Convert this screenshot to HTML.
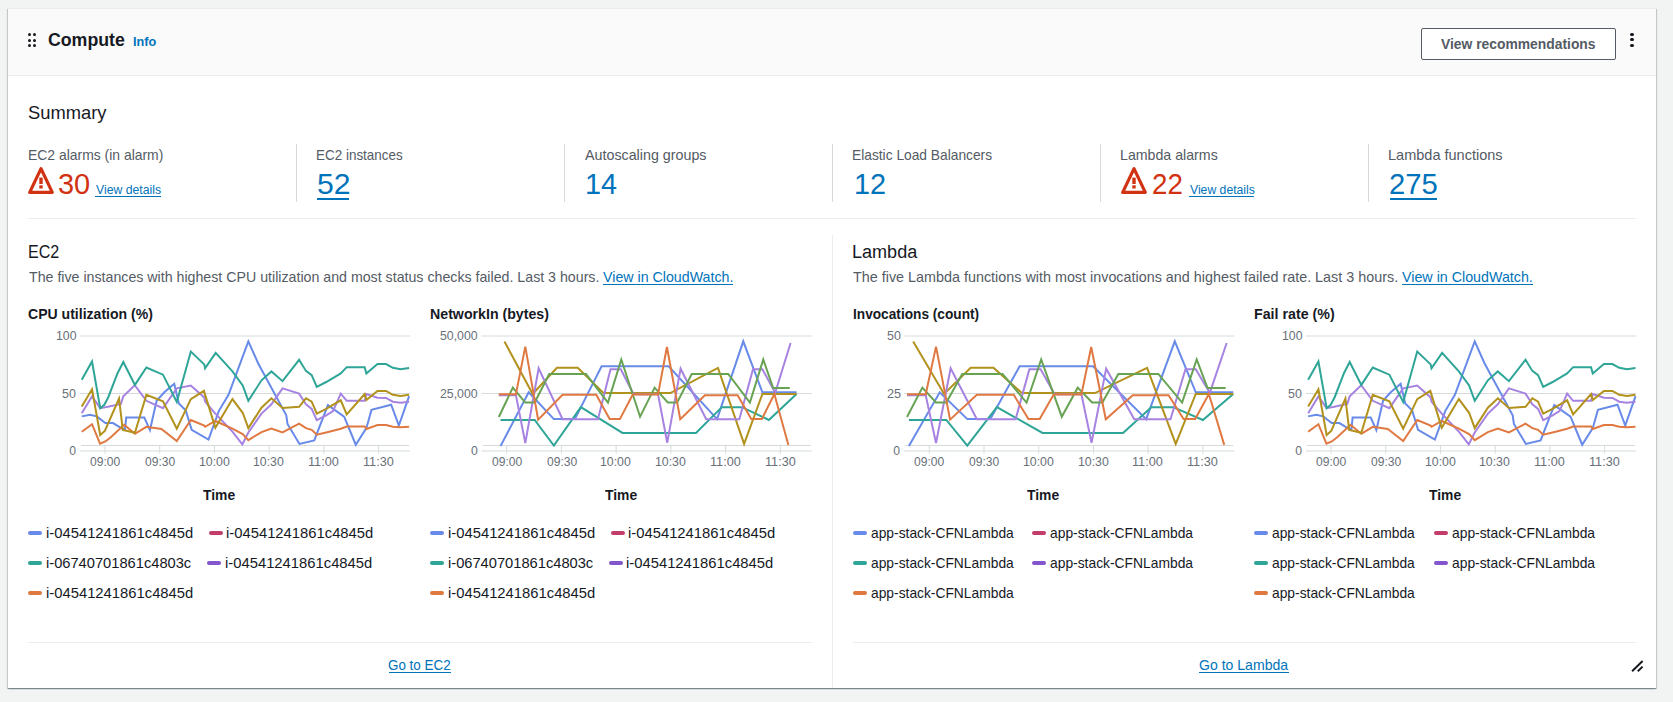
<!DOCTYPE html>
<html lang="en">
<head>
<meta charset="utf-8">
<title>Compute</title>
<style>
html,body{margin:0;padding:0}
body{width:1673px;height:702px;overflow:hidden;background:#f2f3f3;font-family:"Liberation Sans",sans-serif;position:relative;color:#16191f}
.card{position:absolute;left:8px;top:8px;width:1648px;height:680px;background:#fff;border-top:1px solid #eaeded;box-sizing:border-box;box-shadow:0 1px 1px 0 rgba(0,28,36,.3),1px 1px 1px 0 rgba(0,28,36,.15),-1px 1px 1px 0 rgba(0,28,36,.15)}
.hdr{position:absolute;left:0;top:0;width:100%;height:67px;background:#fafafa;border-bottom:1px solid #eaeded;box-sizing:border-box}
.t{position:absolute;transform-origin:0 0;margin:0;padding:0;white-space:nowrap;font-weight:400;text-decoration:none;display:block}
.ul{position:absolute;display:block}
.mk{position:absolute;display:block;width:14px;height:4px;border-radius:2px}
.vr{position:absolute;width:1px;background:#eaeded}
.hr{position:absolute;height:1px;background:#eaeded}
.btn{position:absolute;left:1421px;top:28px;width:195px;height:32px;box-sizing:border-box;border:1px solid #545b64;border-radius:2px;background:#fff}
.dot{position:absolute;width:3px;height:3px;border-radius:50%;background:#16191f}
.ic{position:absolute}
.charts{position:absolute;left:0;top:0}
#abs{position:absolute;left:0;top:0;width:1673px;height:702px}
</style>
</head>
<body>
<div class="card"><div class="hdr"></div></div>
<div id="abs">
<div class="btn"></div>
<i class="dot" style="left:27.6px;top:33.2px"></i><i class="dot" style="left:27.6px;top:38.6px"></i><i class="dot" style="left:27.6px;top:44px"></i><i class="dot" style="left:33.2px;top:33.2px"></i><i class="dot" style="left:33.2px;top:38.6px"></i><i class="dot" style="left:33.2px;top:44px"></i>
<i class="dot" style="left:1630.4px;top:32.9px;width:3.2px;height:3.2px"></i><i class="dot" style="left:1630.4px;top:38.3px;width:3.2px;height:3.2px"></i><i class="dot" style="left:1630.4px;top:43.8px;width:3.2px;height:3.2px"></i>
<i class="vr" style="left:296px;top:144px;height:58px;background:#d5dbdb"></i><i class="vr" style="left:564px;top:144px;height:58px;background:#d5dbdb"></i><i class="vr" style="left:832px;top:144px;height:58px;background:#d5dbdb"></i><i class="vr" style="left:1100px;top:144px;height:58px;background:#d5dbdb"></i><i class="vr" style="left:1368px;top:144px;height:58px;background:#d5dbdb"></i>
<i class="hr" style="left:28px;top:218px;width:1608px"></i>
<i class="vr" style="left:832px;top:235px;height:453px"></i>
<i class="hr" style="left:28px;top:642px;width:784px"></i>
<i class="hr" style="left:853px;top:642px;width:783px"></i>
<svg class="ic" style="left:26.9px;top:165px" width="28" height="30" viewBox="-1 165 28 30"><path d="M13 168.6 L24.3 192.4 H1.7 Z" fill="none" stroke="#d13212" stroke-width="3.2" stroke-linejoin="round"/><rect x="11.3" y="177.6" width="3.4" height="6.4" fill="#d13212"/><rect x="11.3" y="185.3" width="3.4" height="3.2" fill="#d13212"/></svg>
<svg class="ic" style="left:1120px;top:165px" width="28" height="30" viewBox="-1 165 28 30"><path d="M13 168.6 L24.3 192.4 H1.7 Z" fill="none" stroke="#d13212" stroke-width="3.2" stroke-linejoin="round"/><rect x="11.3" y="177.6" width="3.4" height="6.4" fill="#d13212"/><rect x="11.3" y="185.3" width="3.4" height="3.2" fill="#d13212"/></svg>
<svg class="charts" width="1673" height="702" viewBox="0 0 1673 702">
<g stroke="#d5dbdb" stroke-width="1" fill="none">
<line x1="80" y1="336.0" x2="410" y2="336.0"/>
<line x1="80" y1="393.5" x2="410" y2="393.5"/>
<line x1="80" y1="451.0" x2="410" y2="451.0"/>
<line x1="81" y1="445.5" x2="409" y2="445.5"/>
<line x1="105" y1="445" x2="105" y2="453.6"/>
<line x1="159.72" y1="445" x2="159.72" y2="453.6"/>
<line x1="214.44" y1="445" x2="214.44" y2="453.6"/>
<line x1="269.16" y1="445" x2="269.16" y2="453.6"/>
<line x1="323.88" y1="445" x2="323.88" y2="453.6"/>
<line x1="378.6" y1="445" x2="378.6" y2="453.6"/>
</g>
<g fill="none" stroke-width="2" stroke-linejoin="miter" stroke-linecap="butt">
<polyline points="81.76,416.37 89.97,414.66 96.8,416.37 105.35,423.03 113.04,423.03 122.79,429.02 125.01,429.53 126.21,417.56 144.32,417.56 149.97,430.04 156.63,400.81 164.32,392.26 174.24,383.72 178.85,403.38 185.69,410.21 191.68,429.87 208.51,439.62 218.77,411.07 228.51,394.83 248.34,341.32 258.09,363.21 286.29,415.34 287.49,423.89 299.45,443.89 314.24,440.47 327.91,405.09 344.15,416.71 355.78,444.74 366.38,428.16 371.5,409.87 391.16,404.74 398.85,425.6 409.11,396.2" stroke="#688ae8"/>
<polyline points="81.76,413.29 92.02,396.37 100.22,408.16 107.91,406.79 120.91,403.89 123.3,396.37 134.75,385.26 146.38,400.81 162.96,408.16 176.8,388.33 190.82,385.6 204.24,397.39 205.09,401.67 215.35,413.63 232.44,431.58 242.36,444.4 248.34,432.44 261.5,413.63 271.42,404.23 282.53,388.33 299.11,393.63 305.95,404.23 311.68,408.85 316.8,420.13 326.21,415.34 333.04,411.07 340.74,393.63 346.72,400.81 364.67,400.81 366.38,393.97 377.49,397.74 386.03,397.91 392.87,401.67 400.56,402.86 409.11,401.67" stroke="#a783e1"/>
<polyline points="81.76,431.75 92.02,424.23 100.05,443.72 105.35,441.5 110.82,437.22 124.15,424.74 134.92,433.8 146.38,426.79 161.42,429.02 176.8,440.98 190.82,419.96 204.24,425.6 205.09,426.79 215.35,420.98 232.44,428.68 242.7,434.15 248.34,440.13 261.5,432.09 271.42,428.5 282.53,432.44 299.11,423.55 305.95,428.16 311.68,429.87 316.8,434.66 326.21,432.44 340.74,428.68 346.72,426.45 364.67,426.45 366.38,429.02 377.49,425.09 386.03,425.09 392.87,426.79 400.56,427.31 409.11,426.79" stroke="#e07941"/>
<polyline points="81.76,379.79 92.02,361.5 100.22,408.16 104.32,404.74 108.26,397.22 117.66,372.95 123.3,362.01 134.92,384.91 146.38,367.48 162.96,374.66 176.8,402.01 190.82,351.58 204.24,364.4 205.09,368.33 215.69,352.95 232.44,371.41 242.7,385.43 248.34,400.81 261.5,380.3 271.42,371.41 282.53,381.15 299.11,359.79 305.95,370.9 311.68,375.17 316.8,386.79 326.21,382.01 340.74,373.46 346.72,367.14 364.67,367.14 366.38,373.46 377.49,364.06 386.03,364.06 392.87,367.82 400.56,369.19 409.11,367.99" stroke="#2ea597"/>
<polyline points="81.76,406.45 92.02,389.36 100.22,435 104.84,430.9 119.03,398.59 122.79,429.87 134.92,432.78 146.38,394.83 162.96,401.32 176.8,428.68 190.82,399.1 203.9,390.9 215.35,427.82 232.44,399.1 242.7,412.78 248.34,428.16 261.5,407.65 271.42,398.25 282.53,407.99 299.11,406.79 305.95,398.25 311.68,401.67 316.8,413.63 326.21,408.85 340.74,400.3 346.72,414.49 364.67,393.97 366.38,399.96 377.49,390.9 386.03,390.9 392.87,394.83 400.56,396.03 409.11,394.83" stroke="#b2911c"/>
</g>
<g stroke="#d5dbdb" stroke-width="1" fill="none">
<line x1="481.7" y1="336.0" x2="811.7" y2="336.0"/>
<line x1="481.7" y1="393.5" x2="811.7" y2="393.5"/>
<line x1="481.7" y1="451.0" x2="811.7" y2="451.0"/>
<line x1="482.7" y1="445.5" x2="810.7" y2="445.5"/>
<line x1="506.7" y1="445" x2="506.7" y2="453.6"/>
<line x1="561.42" y1="445" x2="561.42" y2="453.6"/>
<line x1="616.14" y1="445" x2="616.14" y2="453.6"/>
<line x1="670.86" y1="445" x2="670.86" y2="453.6"/>
<line x1="725.58" y1="445" x2="725.58" y2="453.6"/>
<line x1="780.3" y1="445" x2="780.3" y2="453.6"/>
</g>
<g fill="none" stroke-width="2" stroke-linejoin="miter" stroke-linecap="butt">
<polyline points="500.51,446.11 528.72,392.26 553.85,419.1 574.87,419.1 601.62,366.28 668.63,366.28 717.09,419.1 743.25,341.32 762.39,392.26 796.58,392.26" stroke="#688ae8"/>
<polyline points="500.51,419.96 534.7,419.96 553.85,445.6 580.85,407.14 622.48,432.95 695.98,432.95 721.88,407.14 741.88,407.14 768.89,419.96 796.58,393.97" stroke="#2ea597"/>
<polyline points="504.44,341.5 532.65,393.97 556.92,367.82 577.78,367.82 603.68,393.12 670.34,393.12 717.95,367.82 744.1,443.89 762.39,393.97 796.58,393.97" stroke="#b2911c"/>
<polyline points="498.8,395.17 515.9,395.17 525.3,443.03 538.63,368.33 562.56,419.27 597.95,419.27 610.51,369.19 620.77,369.19 633.59,394.32 658.03,394.32 667.26,442.69 680.6,368.68 706.24,419.27 739.32,419.27 752.99,369.19 762.39,369.19 775.21,392.78 790.6,343.03" stroke="#a783e1"/>
<polyline points="498.8,417.05 512.82,387.65 525.3,402.52 534.7,402.52 549.23,373.97 585.98,373.97 607.95,402.52 621.28,359.44 640.09,416.71 654.62,387.65 667.78,402.52 677.18,402.52 691.71,373.97 728.21,373.97 749.91,402.52 763.25,359.44 773.16,387.99 789.74,387.99" stroke="#67a353"/>
<polyline points="498.8,394.32 515.9,394.32 525.3,346.62 538.12,419.62 562.56,394.83 596.24,394.83 609.66,419.1 619.91,419.1 632.74,394.49 658.03,394.49 666.92,346.97 680.26,419.27 704.87,395.17 737.61,395.17 751.28,419.1 761.88,419.1 774.36,393.97 788.38,444.91" stroke="#e07941"/>
</g>
<g stroke="#d5dbdb" stroke-width="1" fill="none">
<line x1="904.3" y1="336.0" x2="1234.3" y2="336.0"/>
<line x1="904.3" y1="393.5" x2="1234.3" y2="393.5"/>
<line x1="904.3" y1="451.0" x2="1234.3" y2="451.0"/>
<line x1="905.3" y1="445.5" x2="1233.3" y2="445.5"/>
<line x1="929.3" y1="445" x2="929.3" y2="453.6"/>
<line x1="984.02" y1="445" x2="984.02" y2="453.6"/>
<line x1="1038.74" y1="445" x2="1038.74" y2="453.6"/>
<line x1="1093.46" y1="445" x2="1093.46" y2="453.6"/>
<line x1="1148.18" y1="445" x2="1148.18" y2="453.6"/>
<line x1="1202.9" y1="445" x2="1202.9" y2="453.6"/>
</g>
<g fill="none" stroke-width="2" stroke-linejoin="miter" stroke-linecap="butt">
<polyline points="908.88,446.11 939.78,392.26 967.3,419.1 990.34,419.1 1019.64,366.28 1093.05,366.28 1146.14,419.1 1174.79,341.32 1195.77,392.26 1233.22,392.26" stroke="#688ae8"/>
<polyline points="908.88,419.96 946.33,419.96 967.3,445.6 996.89,407.14 1042.49,432.95 1123.01,432.95 1151.38,407.14 1173.29,407.14 1202.88,419.96 1233.22,393.97" stroke="#2ea597"/>
<polyline points="913.18,341.5 944.08,393.97 970.67,367.82 993.52,367.82 1021.89,393.12 1094.92,393.12 1147.08,367.82 1175.73,443.89 1195.77,393.97 1233.22,393.97" stroke="#b2911c"/>
<polyline points="907,395.17 925.73,395.17 936.03,443.03 950.64,368.33 976.85,419.27 1015.62,419.27 1029.38,369.19 1040.62,369.19 1054.66,394.32 1081.44,394.32 1091.55,442.69 1106.16,368.68 1134.25,419.27 1170.49,419.27 1185.47,369.19 1195.77,369.19 1209.81,392.78 1226.67,343.03" stroke="#a783e1"/>
<polyline points="907,417.05 922.36,387.65 936.03,402.52 946.33,402.52 962.25,373.97 1002.51,373.97 1026.57,402.52 1041.18,359.44 1061.78,416.71 1077.7,387.65 1092.12,402.52 1102.41,402.52 1118.33,373.97 1158.31,373.97 1182.1,402.52 1196.7,359.44 1207.56,387.99 1225.73,387.99" stroke="#67a353"/>
<polyline points="907,394.32 925.73,394.32 936.03,346.62 950.07,419.62 976.85,394.83 1013.74,394.83 1028.45,419.1 1039.68,419.1 1053.73,394.49 1081.44,394.49 1091.18,346.97 1105.79,419.27 1132.75,395.17 1168.61,395.17 1183.59,419.1 1195.2,419.1 1208.87,393.97 1224.23,444.91" stroke="#e07941"/>
</g>
<g stroke="#d5dbdb" stroke-width="1" fill="none">
<line x1="1306" y1="336.0" x2="1636" y2="336.0"/>
<line x1="1306" y1="393.5" x2="1636" y2="393.5"/>
<line x1="1306" y1="451.0" x2="1636" y2="451.0"/>
<line x1="1307" y1="445.5" x2="1635" y2="445.5"/>
<line x1="1331" y1="445" x2="1331" y2="453.6"/>
<line x1="1385.72" y1="445" x2="1385.72" y2="453.6"/>
<line x1="1440.44" y1="445" x2="1440.44" y2="453.6"/>
<line x1="1495.16" y1="445" x2="1495.16" y2="453.6"/>
<line x1="1549.88" y1="445" x2="1549.88" y2="453.6"/>
<line x1="1604.6" y1="445" x2="1604.6" y2="453.6"/>
</g>
<g fill="none" stroke-width="2" stroke-linejoin="miter" stroke-linecap="butt">
<polyline points="1308.16,416.37 1316.37,414.66 1323.2,416.37 1331.75,423.03 1339.44,423.03 1349.19,429.02 1351.41,429.53 1352.61,417.56 1370.72,417.56 1376.37,430.04 1383.03,400.81 1390.72,392.26 1400.64,383.72 1405.25,403.38 1412.09,410.21 1418.08,429.87 1434.91,439.62 1445.17,411.07 1454.91,394.83 1474.74,341.32 1484.49,363.21 1512.69,415.34 1513.89,423.89 1525.85,443.89 1540.64,440.47 1554.31,405.09 1570.55,416.71 1582.18,444.74 1592.78,428.16 1597.9,409.87 1617.56,404.74 1625.25,425.6 1635.51,396.2" stroke="#688ae8"/>
<polyline points="1308.16,413.29 1318.42,396.37 1326.62,408.16 1334.31,406.79 1347.31,403.89 1349.7,396.37 1361.15,385.26 1372.78,400.81 1389.36,408.16 1403.2,388.33 1417.22,385.6 1430.64,397.39 1431.49,401.67 1441.75,413.63 1458.84,431.58 1468.76,444.4 1474.74,432.44 1487.9,413.63 1497.82,404.23 1508.93,388.33 1525.51,393.63 1532.35,404.23 1538.08,408.85 1543.2,420.13 1552.61,415.34 1559.44,411.07 1567.14,393.63 1573.12,400.81 1591.07,400.81 1592.78,393.97 1603.89,397.74 1612.43,397.91 1619.27,401.67 1626.96,402.86 1635.51,401.67" stroke="#a783e1"/>
<polyline points="1308.16,431.75 1318.42,424.23 1326.45,443.72 1331.75,441.5 1337.22,437.22 1350.55,424.74 1361.32,433.8 1372.78,426.79 1387.82,429.02 1403.2,440.98 1417.22,419.96 1430.64,425.6 1431.49,426.79 1441.75,420.98 1458.84,428.68 1469.1,434.15 1474.74,440.13 1487.9,432.09 1497.82,428.5 1508.93,432.44 1525.51,423.55 1532.35,428.16 1538.08,429.87 1543.2,434.66 1552.61,432.44 1567.14,428.68 1573.12,426.45 1591.07,426.45 1592.78,429.02 1603.89,425.09 1612.43,425.09 1619.27,426.79 1626.96,427.31 1635.51,426.79" stroke="#e07941"/>
<polyline points="1308.16,379.79 1318.42,361.5 1326.62,408.16 1330.72,404.74 1334.66,397.22 1344.06,372.95 1349.7,362.01 1361.32,384.91 1372.78,367.48 1389.36,374.66 1403.2,402.01 1417.22,351.58 1430.64,364.4 1431.49,368.33 1442.09,352.95 1458.84,371.41 1469.1,385.43 1474.74,400.81 1487.9,380.3 1497.82,371.41 1508.93,381.15 1525.51,359.79 1532.35,370.9 1538.08,375.17 1543.2,386.79 1552.61,382.01 1567.14,373.46 1573.12,367.14 1591.07,367.14 1592.78,373.46 1603.89,364.06 1612.43,364.06 1619.27,367.82 1626.96,369.19 1635.51,367.99" stroke="#2ea597"/>
<polyline points="1308.16,406.45 1318.42,389.36 1326.62,435 1331.24,430.9 1345.43,398.59 1349.19,429.87 1361.32,432.78 1372.78,394.83 1389.36,401.32 1403.2,428.68 1417.22,399.1 1430.3,390.9 1441.75,427.82 1458.84,399.1 1469.1,412.78 1474.74,428.16 1487.9,407.65 1497.82,398.25 1508.93,407.99 1525.51,406.79 1532.35,398.25 1538.08,401.67 1543.2,413.63 1552.61,408.85 1567.14,400.3 1573.12,414.49 1591.07,393.97 1592.78,399.96 1603.89,390.9 1612.43,390.9 1619.27,394.83 1626.96,396.03 1635.51,394.83" stroke="#b2911c"/>
</g>
</svg>
<i class="mk" style="left:28.2px;top:531px;background:#688ae8"></i>
<i class="mk" style="left:209.1px;top:531px;background:#c33d69"></i>
<i class="mk" style="left:28.2px;top:561px;background:#2ea597"></i>
<i class="mk" style="left:207.2px;top:561px;background:#8456ce"></i>
<i class="mk" style="left:28.2px;top:591px;background:#e07941"></i>
<i class="mk" style="left:429.9px;top:531px;background:#688ae8"></i>
<i class="mk" style="left:610.8px;top:531px;background:#c33d69"></i>
<i class="mk" style="left:429.9px;top:561px;background:#2ea597"></i>
<i class="mk" style="left:608.9px;top:561px;background:#8456ce"></i>
<i class="mk" style="left:429.9px;top:591px;background:#e07941"></i>
<i class="mk" style="left:852.7px;top:531px;background:#688ae8"></i>
<i class="mk" style="left:1031.9px;top:531px;background:#c33d69"></i>
<i class="mk" style="left:852.7px;top:561px;background:#2ea597"></i>
<i class="mk" style="left:1031.9px;top:561px;background:#8456ce"></i>
<i class="mk" style="left:852.7px;top:591px;background:#e07941"></i>
<i class="mk" style="left:1254.4px;top:531px;background:#688ae8"></i>
<i class="mk" style="left:1433.6px;top:531px;background:#c33d69"></i>
<i class="mk" style="left:1254.4px;top:561px;background:#2ea597"></i>
<i class="mk" style="left:1433.6px;top:561px;background:#8456ce"></i>
<i class="mk" style="left:1254.4px;top:591px;background:#e07941"></i>
<h2 class="t" style="left:47.94px;top:27px;font-size:18.5px;line-height:25px;color:#16191f;transform:scaleX(0.9580);font-weight:700;">Compute</h2>
<a class="t" href="#" style="left:132.51px;top:33px;font-size:12.2px;line-height:18px;color:#0073bb;transform:scaleX(1.0405);font-weight:700;">Info</a>
<span class="t" style="left:1441.25px;top:34px;font-size:14.3px;line-height:20px;color:#545b64;transform:scaleX(0.9691);font-weight:700;">View recommendations</span>
<h3 class="t" style="left:27.53px;top:101px;font-size:18.2px;line-height:24px;color:#16191f;transform:scaleX(1.0078);">Summary</h3>
<div class="t" style="left:27.82px;top:145px;font-size:14.2px;line-height:20px;color:#545b64;transform:scaleX(0.9810);">EC2 alarms (in alarm)</div>
<div class="t" style="left:316.05px;top:145px;font-size:14.2px;line-height:20px;color:#545b64;transform:scaleX(0.9482);">EC2 instances</div>
<div class="t" style="left:585px;top:145px;font-size:14.2px;line-height:20px;color:#545b64;transform:scaleX(1.0068);">Autoscaling groups</div>
<div class="t" style="left:852.03px;top:145px;font-size:14.2px;line-height:20px;color:#545b64;transform:scaleX(0.9705);">Elastic Load Balancers</div>
<div class="t" style="left:1120.45px;top:145px;font-size:14.2px;line-height:20px;color:#545b64;transform:scaleX(0.9996);">Lambda alarms</div>
<div class="t" style="left:1388.42px;top:145px;font-size:14.2px;line-height:20px;color:#545b64;transform:scaleX(1.0235);">Lambda functions</div>
<span class="t" style="left:58.45px;top:166px;font-size:29px;line-height:36px;color:#d13212;transform:scaleX(0.9991);">30</span>
<a class="t" href="#" style="left:96px;top:181px;font-size:12.3px;line-height:18px;color:#0073bb;transform:scaleX(0.9955);">View details</a><i class="ul" style="left:95.4px;top:195.9px;width:66px;height:1px;background:#0073bb"></i>
<a class="t" href="#" style="left:317.2px;top:166px;font-size:29px;line-height:36px;color:#0073bb;transform:scaleX(1.0408);">52</a><i class="ul" style="left:317.4px;top:198px;width:32.1px;height:2px;background:#0073bb"></i>
<span class="t" style="left:584.9px;top:166px;font-size:29px;line-height:36px;color:#0073bb;transform:scaleX(0.9932);">14</span>
<span class="t" style="left:853.85px;top:166px;font-size:29px;line-height:36px;color:#0073bb;transform:scaleX(0.9959);">12</span>
<span class="t" style="left:1151.89px;top:166px;font-size:29px;line-height:36px;color:#d13212;transform:scaleX(0.9563);">22</span>
<a class="t" href="#" style="left:1189.6px;top:181px;font-size:12.3px;line-height:18px;color:#0073bb;transform:scaleX(0.9917);">View details</a><i class="ul" style="left:1188.8px;top:195.9px;width:65.5px;height:1px;background:#0073bb"></i>
<a class="t" href="#" style="left:1388.69px;top:166px;font-size:29px;line-height:36px;color:#0073bb;transform:scaleX(1.0087);">275</a><i class="ul" style="left:1389.7px;top:198.4px;width:47.3px;height:2px;background:#0073bb"></i>
<h3 class="t" style="left:28.16px;top:240px;font-size:18px;line-height:24px;color:#16191f;transform:scaleX(0.8937);">EC2</h3>
<h3 class="t" style="left:852.47px;top:240px;font-size:18px;line-height:24px;color:#16191f;transform:scaleX(1.0030);">Lambda</h3>
<span class="t" style="left:29.05px;top:267px;font-size:14.3px;line-height:20px;color:#545b64;transform:scaleX(0.9928);">The five instances with highest CPU utilization and most status checks failed. Last 3 hours.</span>
<a class="t" href="#" style="left:602.8px;top:267px;font-size:14.3px;line-height:20px;color:#0073bb;transform:scaleX(0.9943);">View in CloudWatch.</a><i class="ul" style="left:602.6px;top:284.1px;width:130.3px;height:1px;background:#0073bb"></i>
<span class="t" style="left:853.25px;top:267px;font-size:14.3px;line-height:20px;color:#545b64;transform:scaleX(1.0043);">The five Lambda functions with most invocations and highest failed rate. Last 3 hours.</span>
<a class="t" href="#" style="left:1402.4px;top:267px;font-size:14.3px;line-height:20px;color:#0073bb;transform:scaleX(0.9978);">View in CloudWatch.</a><i class="ul" style="left:1402px;top:284.1px;width:130.6px;height:1px;background:#0073bb"></i>
<h4 class="t" style="left:28.3px;top:304px;font-size:14.2px;line-height:20px;color:#16191f;transform:scaleX(0.9904);font-weight:700;">CPU utilization (%)</h4>
<h4 class="t" style="left:429.58px;top:304px;font-size:14.2px;line-height:20px;color:#16191f;transform:scaleX(0.9994);font-weight:700;">NetworkIn (bytes)</h4>
<h4 class="t" style="left:852.98px;top:304px;font-size:14.2px;line-height:20px;color:#16191f;transform:scaleX(0.9642);font-weight:700;">Invocations (count)</h4>
<h4 class="t" style="left:1253.78px;top:304px;font-size:14.2px;line-height:20px;color:#16191f;transform:scaleX(1.0026);font-weight:700;">Fail rate (%)</h4>
<span class="t" style="left:55.82px;top:327px;font-size:12.2px;line-height:18px;color:#687078;transform:scaleX(1.0104);">100</span>
<span class="t" style="left:62.4px;top:385px;font-size:12.2px;line-height:18px;color:#687078;transform:scaleX(1.0242);">50</span>
<span class="t" style="left:69.15px;top:442px;font-size:12.2px;line-height:18px;color:#687078;transform:scaleX(1.0000);">0</span>
<span class="t" style="left:90.1px;top:453px;font-size:12.2px;line-height:18px;color:#687078;transform:scaleX(0.9926);">09:00</span>
<span class="t" style="left:144.96px;top:453px;font-size:12.2px;line-height:18px;color:#687078;transform:scaleX(0.9926);">09:30</span>
<span class="t" style="left:198.55px;top:453px;font-size:12.2px;line-height:18px;color:#687078;transform:scaleX(1.0101);">10:00</span>
<span class="t" style="left:253.43px;top:453px;font-size:12.2px;line-height:18px;color:#687078;transform:scaleX(1.0101);">10:30</span>
<span class="t" style="left:308.08px;top:453px;font-size:12.2px;line-height:18px;color:#687078;transform:scaleX(1.0412);">11:00</span>
<span class="t" style="left:362.94px;top:453px;font-size:12.2px;line-height:18px;color:#687078;transform:scaleX(1.0412);">11:30</span>
<span class="t" style="left:202.85px;top:485px;font-size:14.2px;line-height:20px;color:#16191f;transform:scaleX(0.9775);font-weight:700;">Time</span>
<span class="t" style="left:440.47px;top:327px;font-size:12.2px;line-height:18px;color:#687078;transform:scaleX(1.0090);">50,000</span>
<span class="t" style="left:440.47px;top:385px;font-size:12.2px;line-height:18px;color:#687078;transform:scaleX(1.0090);">25,000</span>
<span class="t" style="left:470.95px;top:442px;font-size:12.2px;line-height:18px;color:#687078;transform:scaleX(1.0000);">0</span>
<span class="t" style="left:491.88px;top:453px;font-size:12.2px;line-height:18px;color:#687078;transform:scaleX(0.9926);">09:00</span>
<span class="t" style="left:546.75px;top:453px;font-size:12.2px;line-height:18px;color:#687078;transform:scaleX(0.9926);">09:30</span>
<span class="t" style="left:600.34px;top:453px;font-size:12.2px;line-height:18px;color:#687078;transform:scaleX(1.0101);">10:00</span>
<span class="t" style="left:655.25px;top:453px;font-size:12.2px;line-height:18px;color:#687078;transform:scaleX(1.0101);">10:30</span>
<span class="t" style="left:709.86px;top:453px;font-size:12.2px;line-height:18px;color:#687078;transform:scaleX(1.0412);">11:00</span>
<span class="t" style="left:764.72px;top:453px;font-size:12.2px;line-height:18px;color:#687078;transform:scaleX(1.0412);">11:30</span>
<span class="t" style="left:604.64px;top:485px;font-size:14.2px;line-height:20px;color:#16191f;transform:scaleX(0.9775);font-weight:700;">Time</span>
<span class="t" style="left:886.63px;top:327px;font-size:12.2px;line-height:18px;color:#687078;transform:scaleX(1.0242);">50</span>
<span class="t" style="left:886.63px;top:385px;font-size:12.2px;line-height:18px;color:#687078;transform:scaleX(1.0439);">25</span>
<span class="t" style="left:893.35px;top:442px;font-size:12.2px;line-height:18px;color:#687078;transform:scaleX(1.0000);">0</span>
<span class="t" style="left:914.27px;top:453px;font-size:12.2px;line-height:18px;color:#687078;transform:scaleX(0.9926);">09:00</span>
<span class="t" style="left:969.18px;top:453px;font-size:12.2px;line-height:18px;color:#687078;transform:scaleX(0.9926);">09:30</span>
<span class="t" style="left:1022.76px;top:453px;font-size:12.2px;line-height:18px;color:#687078;transform:scaleX(1.0101);">10:00</span>
<span class="t" style="left:1077.64px;top:453px;font-size:12.2px;line-height:18px;color:#687078;transform:scaleX(1.0101);">10:30</span>
<span class="t" style="left:1132.24px;top:453px;font-size:12.2px;line-height:18px;color:#687078;transform:scaleX(1.0412);">11:00</span>
<span class="t" style="left:1187.16px;top:453px;font-size:12.2px;line-height:18px;color:#687078;transform:scaleX(1.0412);">11:30</span>
<span class="t" style="left:1027.03px;top:485px;font-size:14.2px;line-height:20px;color:#16191f;transform:scaleX(0.9775);font-weight:700;">Time</span>
<span class="t" style="left:1281.82px;top:327px;font-size:12.2px;line-height:18px;color:#687078;transform:scaleX(1.0104);">100</span>
<span class="t" style="left:1288.4px;top:385px;font-size:12.2px;line-height:18px;color:#687078;transform:scaleX(1.0242);">50</span>
<span class="t" style="left:1295.15px;top:442px;font-size:12.2px;line-height:18px;color:#687078;transform:scaleX(1.0000);">0</span>
<span class="t" style="left:1316.1px;top:453px;font-size:12.2px;line-height:18px;color:#687078;transform:scaleX(0.9926);">09:00</span>
<span class="t" style="left:1370.96px;top:453px;font-size:12.2px;line-height:18px;color:#687078;transform:scaleX(0.9926);">09:30</span>
<span class="t" style="left:1424.55px;top:453px;font-size:12.2px;line-height:18px;color:#687078;transform:scaleX(1.0101);">10:00</span>
<span class="t" style="left:1479.43px;top:453px;font-size:12.2px;line-height:18px;color:#687078;transform:scaleX(1.0101);">10:30</span>
<span class="t" style="left:1534.08px;top:453px;font-size:12.2px;line-height:18px;color:#687078;transform:scaleX(1.0412);">11:00</span>
<span class="t" style="left:1588.94px;top:453px;font-size:12.2px;line-height:18px;color:#687078;transform:scaleX(1.0412);">11:30</span>
<span class="t" style="left:1428.85px;top:485px;font-size:14.2px;line-height:20px;color:#16191f;transform:scaleX(0.9775);font-weight:700;">Time</span>
<span class="t" style="left:45.79px;top:523px;font-size:14.2px;line-height:20px;color:#16191f;transform:scaleX(1.0430);">i-04541241861c4845d</span>
<span class="t" style="left:226.39px;top:523px;font-size:14.2px;line-height:20px;color:#16191f;transform:scaleX(1.0430);">i-04541241861c4845d</span>
<span class="t" style="left:45.79px;top:553px;font-size:14.2px;line-height:20px;color:#16191f;transform:scaleX(1.0341);">i-06740701861c4803c</span>
<span class="t" style="left:224.6px;top:553px;font-size:14.2px;line-height:20px;color:#16191f;transform:scaleX(1.0430);">i-04541241861c4845d</span>
<span class="t" style="left:45.79px;top:583px;font-size:14.2px;line-height:20px;color:#16191f;transform:scaleX(1.0430);">i-04541241861c4845d</span>
<span class="t" style="left:447.6px;top:523px;font-size:14.2px;line-height:20px;color:#16191f;transform:scaleX(1.0430);">i-04541241861c4845d</span>
<span class="t" style="left:628.2px;top:523px;font-size:14.2px;line-height:20px;color:#16191f;transform:scaleX(1.0430);">i-04541241861c4845d</span>
<span class="t" style="left:447.59px;top:553px;font-size:14.2px;line-height:20px;color:#16191f;transform:scaleX(1.0341);">i-06740701861c4803c</span>
<span class="t" style="left:626.39px;top:553px;font-size:14.2px;line-height:20px;color:#16191f;transform:scaleX(1.0430);">i-04541241861c4845d</span>
<span class="t" style="left:447.6px;top:583px;font-size:14.2px;line-height:20px;color:#16191f;transform:scaleX(1.0430);">i-04541241861c4845d</span>
<span class="t" style="left:870.5px;top:523px;font-size:14.2px;line-height:20px;color:#16191f;transform:scaleX(0.9733);">app-stack-CFNLambda</span>
<span class="t" style="left:1050.1px;top:523px;font-size:14.2px;line-height:20px;color:#16191f;transform:scaleX(0.9753);">app-stack-CFNLambda</span>
<span class="t" style="left:870.5px;top:553px;font-size:14.2px;line-height:20px;color:#16191f;transform:scaleX(0.9733);">app-stack-CFNLambda</span>
<span class="t" style="left:1050.1px;top:553px;font-size:14.2px;line-height:20px;color:#16191f;transform:scaleX(0.9753);">app-stack-CFNLambda</span>
<span class="t" style="left:870.5px;top:583px;font-size:14.2px;line-height:20px;color:#16191f;transform:scaleX(0.9733);">app-stack-CFNLambda</span>
<span class="t" style="left:1272.3px;top:523px;font-size:14.2px;line-height:20px;color:#16191f;transform:scaleX(0.9733);">app-stack-CFNLambda</span>
<span class="t" style="left:1451.9px;top:523px;font-size:14.2px;line-height:20px;color:#16191f;transform:scaleX(0.9753);">app-stack-CFNLambda</span>
<span class="t" style="left:1272.3px;top:553px;font-size:14.2px;line-height:20px;color:#16191f;transform:scaleX(0.9733);">app-stack-CFNLambda</span>
<span class="t" style="left:1451.9px;top:553px;font-size:14.2px;line-height:20px;color:#16191f;transform:scaleX(0.9753);">app-stack-CFNLambda</span>
<span class="t" style="left:1272.3px;top:583px;font-size:14.2px;line-height:20px;color:#16191f;transform:scaleX(0.9733);">app-stack-CFNLambda</span>
<a class="t" href="#" style="left:388.13px;top:655px;font-size:14.3px;line-height:20px;color:#0073bb;transform:scaleX(0.9384);">Go to EC2</a><i class="ul" style="left:388.5px;top:672px;width:62.3px;height:1.4px;background:#0073bb"></i>
<a class="t" href="#" style="left:1198.94px;top:655px;font-size:14.3px;line-height:20px;color:#0073bb;transform:scaleX(0.9835);">Go to Lambda</a><i class="ul" style="left:1199.45px;top:672px;width:89.55px;height:1.4px;background:#0073bb"></i>
<svg class="ic" style="left:1628px;top:657px" width="18" height="18" viewBox="1628 657 18 18"><path d="M1632.1 671.2 L1642.6 661 M1637.8 671.2 L1642.6 666.6" stroke="#16191f" stroke-width="2" fill="none"/></svg>
</div>
</body>
</html>
